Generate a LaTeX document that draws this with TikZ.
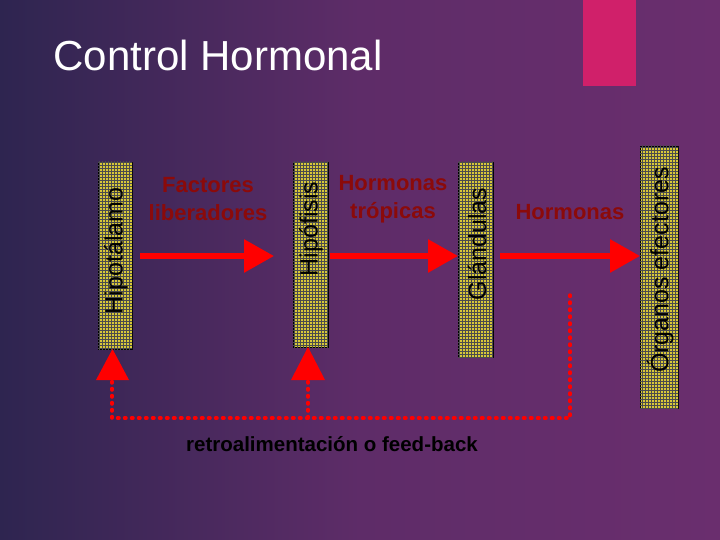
\documentclass[tikz,border=0pt]{standalone}
\usepackage{fontspec}
\setmainfont{Liberation Sans}
\usepackage{tikz}
\usetikzlibrary{patterns,arrows.meta}
\definecolor{bgDark}{HTML}{2E2550}
\definecolor{bgLight}{HTML}{6A2E6E}
\definecolor{barFill}{HTML}{D8C838}
\definecolor{labelRed}{HTML}{8B0A0A}
\definecolor{tabPink}{HTML}{D0206A}

\begin{document}
\begin{tikzpicture}[
  x=1pt,
  y=-1pt,
  organ/.style={
    draw=black,
    thick,
    fill=barFill,
    postaction={pattern=grid, pattern color=black!70},
  },
  organ label/.style={
    rotate=90,
    font=\fontsize{25}{25}\selectfont,
  },
  flow/.style={
    draw=red,
    line width=6pt,
    -{Triangle[length=30pt,width=32pt]},
  },
  feedback/.style={
    draw=red,
    line width=3.5pt,
    line cap=round,
    dash pattern=on 1.5pt off 5.5pt,
  },
  flow label/.style={
    text=labelRed,
    font=\bfseries\fontsize{22}{28}\selectfont,
    align=center,
  },
]
\useasboundingbox[left color=bgDark,right color=bgLight,middle color=bgLight!80!bgDark] (0,0) rectangle (720,540);
\fill[tabPink] (583,0) rectangle (636,86);
\node[anchor=west,font=\fontsize{42}{42}\selectfont,text=white] (title) at (50,55) {Control Hormonal};
% organs
\draw[organ] (98,162) rectangle (132,349);
\node[organ label] (hipotalamo) at (116,251) {Hipotálamo};
\draw[organ] (293,162) rectangle (328,347);
\node[organ label] (hipofisis) at (311,229) {Hipófisis};
\draw[organ] (458,162) rectangle (493,357);
\node[organ label] (glandulas) at (477,244) {Glándulas};
\draw[organ] (640,146) rectangle (678,408);
\node[organ label] (organos) at (660,270) {Órganos efectores};
% forward flow
\coordinate (a1) at (140,256);
\coordinate (a2) at (274,256);
\coordinate (b1) at (330,256);
\coordinate (b2) at (458,256);
\coordinate (c1) at (500,256);
\coordinate (c2) at (640,256);
\draw[flow] (a1) -- (a2);
\draw[flow] (b1) -- (b2);
\draw[flow] (c1) -- (c2);
\node[flow label] (factores) at (208,199) {Factores\\liberadores};
\node[flow label] (tropicas) at (393,199) {Hormonas\\trópicas};
\node[flow label] (hormonas) at (570,212) {Hormonas};
% feedback loop
\coordinate (f0) at (570,295);
\coordinate (f1) at (570,418);
\coordinate (f2) at (112,418);
\coordinate (f3) at (112,380);
\coordinate (f4) at (308,418);
\coordinate (f5) at (308,380);
\draw[feedback] (f0) -- (f1) -- (f2) -- (f3);
\draw[feedback] (f4) -- (f5);
\fill[red] (96,380) -- (129,380) -- (112.5,349) -- cycle;
\fill[red] (291,380) -- (325,380) -- (308,347) -- cycle;
\node[font=\bfseries\fontsize{20.5}{20.5}\selectfont] (retro) at (332,444) {retroalimentación o feed-back};
\end{tikzpicture}
\end{document}
